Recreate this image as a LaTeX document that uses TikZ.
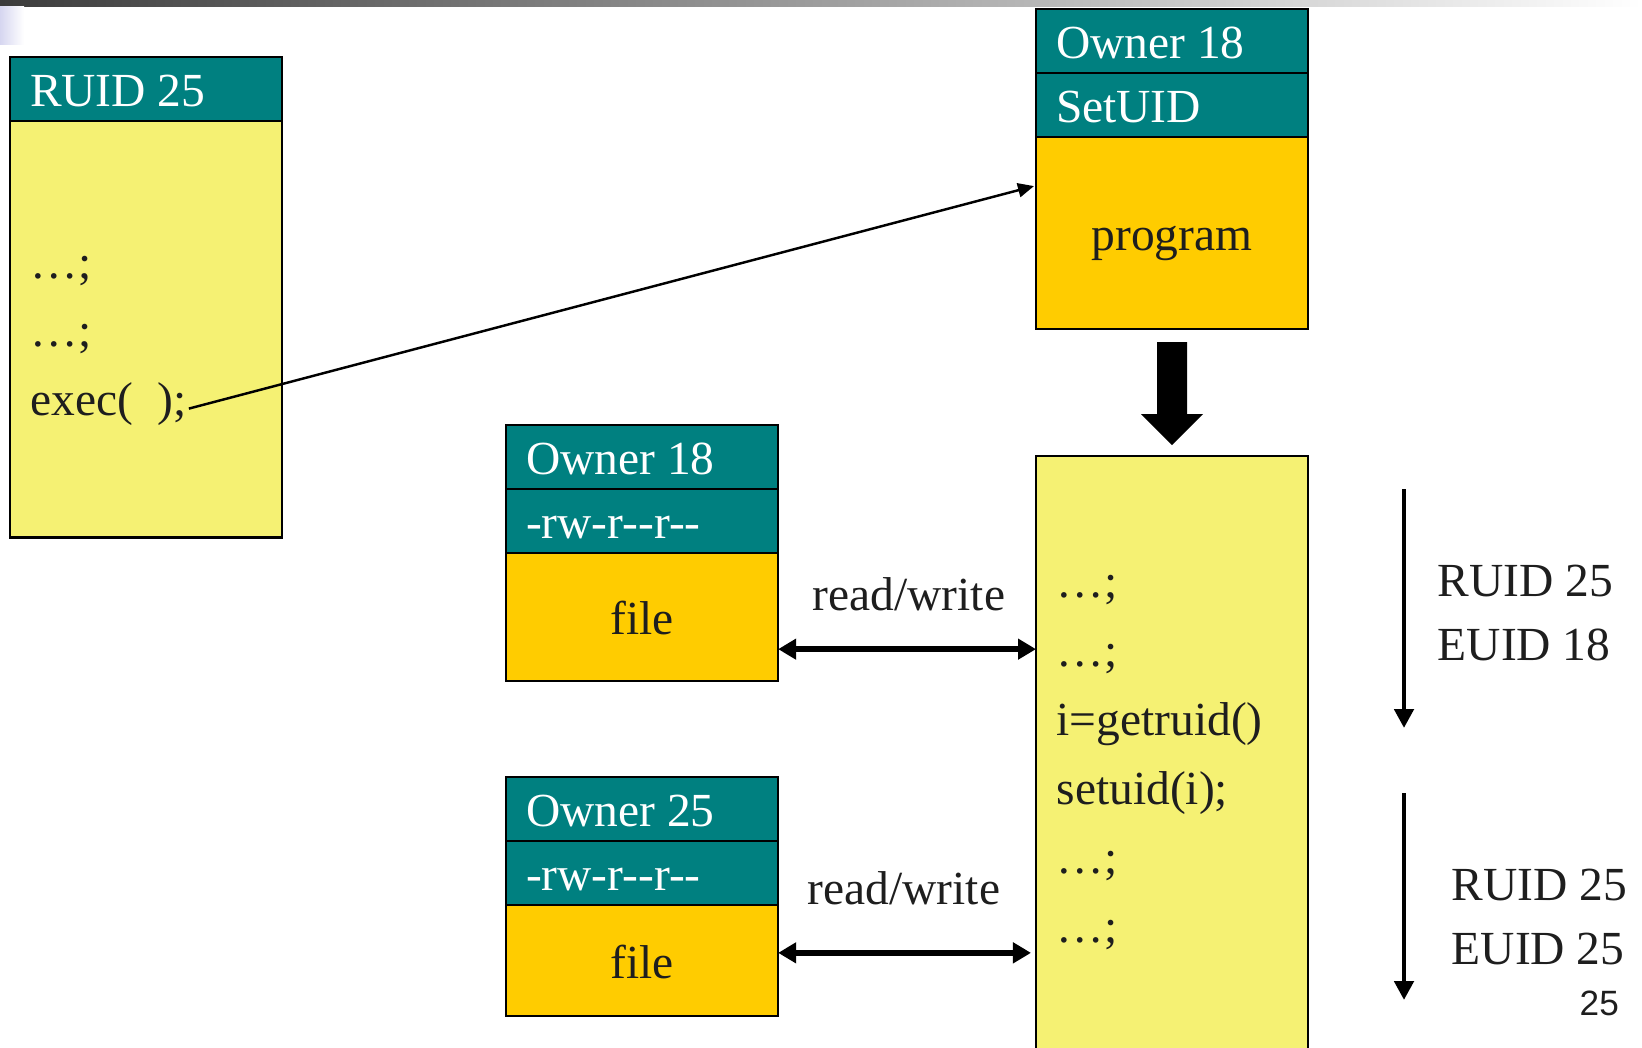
\documentclass[tikz,border=0pt]{standalone}
\usepackage{fontspec}
\setmainfont{Liberation Serif}
\newfontfamily\pagenofont{Liberation Sans}
\usepackage{tikz}
\usetikzlibrary{arrows.meta}
\usetikzlibrary{positioning}
\usetikzlibrary{calc}
\definecolor{hdrteal}{RGB}{0,128,128}
\definecolor{bodygold}{RGB}{255,204,0}
\definecolor{bodypale}{RGB}{245,241,115}
\definecolor{inkgray}{RGB}{30,30,30}
\definecolor{bardark}{RGB}{60,60,60}
\definecolor{barlav}{RGB}{214,214,240}
\newcommand{\slidesize}{\fontsize{13.5}{16}\selectfont}
\newcommand{\rowtext}[1]{\makebox[2.32cm][l]{#1}}

\begin{document}
\begin{tikzpicture}[x=0.01cm,y=-0.01cm,
  box/.style={draw,line width=0.7pt,anchor=north west,outer sep=0pt,minimum width=2.72cm,
    inner xsep=0.2cm,inner ysep=0pt,text height=0.45cm,text depth=0.1cm,font=\slidesize},
  hdr/.style={box,fill=hdrteal,text=white,minimum height=0.64cm},
  body/.style={box,text=inkgray},
  code/.style={anchor=base west,inner sep=0pt,font=\slidesize,text=inkgray},
  callarrow/.style={-{Triangle[length=0.16cm,width=0.14cm]},line width=0.7pt},
  rwarrow/.style={{Triangle[length=0.18cm,width=0.2cm]}-{Triangle[length=0.18cm,width=0.2cm]},line width=1.6pt},
  flowarrow/.style={-{Triangle[length=0.19cm,width=0.19cm]},line width=1.4pt}]
\useasboundingbox (0,0) rectangle (1642,1047);
\shade[left color=bardark,right color=white] (0,0) rectangle (1642,6);
\shade[left color=barlav,right color=white] (0,6) rectangle (24,44);

\node[hdr] (ruidhdr) at (10,57) {\rowtext{RUID 25}};
\node[body,fill=bodypale,minimum height=4.16cm] (caller) at (ruidhdr.south west) {};
\node[code] (cline1) at (30,278) {…;};
\node[code] (cline2) at (30,346) {…;};
\node[code] (execln) at (30,415) {exec(\ \ );};

\node[hdr] (progown) at (1036,9) {\rowtext{Owner 18}};
\node[hdr] (progsuid) at (progown.south west) {\rowtext{SetUID}};
\node[body,fill=bodygold,minimum height=1.92cm] (progbody) at (progsuid.south west) {program};
\coordinate (entry) at ($(progbody.north west)+(-2,49)$);
\draw[callarrow] ([xshift=0.02cm,yshift=-0.05cm]execln.east) -- (entry);

\fill (1157,342) -- (1187,342) -- (1187,414) -- (1203,414) -- (1172,445) -- (1141,414) -- (1157,414) -- cycle;

\node[body,fill=bodypale,minimum height=6.2cm] (proc) at (1036,456) {};
\foreach \t [count=\i] in {…;,…;,i=getruid(),setuid(i);,…;,…;} {
  \node[code] (pline\i) at (1056,528+69*\i) {\t};
}

\node[hdr] (f1own) at (506,425) {\rowtext{Owner 18}};
\node[hdr] (f1perm) at (f1own.south west) {\rowtext{-rw-r{-}{-}r{-}{-}}};
\node[body,fill=bodygold,minimum height=1.28cm] (f1body) at (f1perm.south west) {file};

\node[hdr] (f2own) at (506,777) {\rowtext{Owner 25}};
\node[hdr] (f2perm) at (f2own.south west) {\rowtext{-rw-r{-}{-}r{-}{-}}};
\node[body,fill=bodygold,minimum height=1.11cm] (f2body) at (f2perm.south west) {file};

\coordinate (rw1) at ($(f1body.south east)!0.25!(f1body.north east)$);
\coordinate (rw2) at ($(f2body.south east)!0.57!(f2body.north east)$);
\draw[rwarrow] (rw1) -- (rw1 -| proc.west);
\draw[rwarrow] (rw2) -- ([xshift=-0.05cm]rw2 -| proc.west);
\node[code,anchor=base] (rwtext1) at (909,610) {read/write};
\node[code,anchor=base] (rwtext2) at (904,904) {read/write};

\coordinate (run1top) at (1404,489);
\coordinate (run1end) at (1404,728);
\coordinate (run2top) at (1404,793);
\coordinate (run2end) at (1404,1000);
\draw[flowarrow] (run1top) -- (run1end);
\draw[flowarrow] (run2top) -- (run2end);
\node[code] (ruid1) at (1437,596) {RUID 25};
\node[code] (euid1) at (1437,660) {EUID 18};
\node[code] (ruid2) at (1451,900) {RUID 25};
\node[code] (euid2) at (1451,964) {EUID 25};
\node[code,font=\pagenofont\fontsize{10}{12}\selectfont] (pageno) at (1579,1015) {25};
\end{tikzpicture}
\end{document}
